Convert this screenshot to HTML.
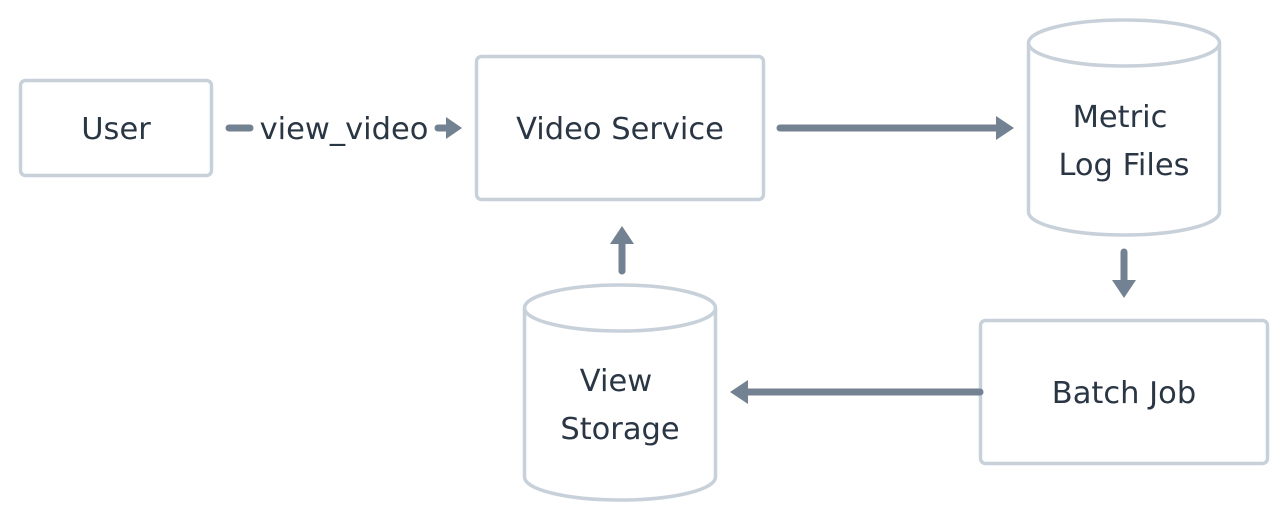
<!DOCTYPE html>
<html><head><style>
html,body{margin:0;padding:0;background:#fff;}
svg{display:block;}
text{font-family:"DejaVu Sans","Liberation Sans",sans-serif;font-size:30.5px;fill:#2a3644;text-anchor:middle;}
</style></head><body>
<svg width="1288" height="520" viewBox="0 0 1288 520">
<g fill="#fff" stroke="#c8d1da" stroke-width="3.5">
<rect x="20.5" y="80.5" width="191" height="95" rx="5"/>
<rect x="476.5" y="56.5" width="287" height="143" rx="5"/>
<rect x="980.5" y="320.5" width="287" height="143" rx="5"/>
<path d="M1028.5 43 V212 A95.5 23 0 0 0 1219.5 212 V43"/>
<ellipse cx="1124" cy="43" rx="95.5" ry="23"/>
<path d="M524.5 308 V477 A95.5 23 0 0 0 715.5 477 V308"/>
<ellipse cx="620" cy="308" rx="95.5" ry="23"/>
</g>
<g stroke="#738292" stroke-width="7" stroke-linecap="round" fill="none">
<line x1="229" y1="128" x2="250" y2="128"/>
<line x1="438" y1="128" x2="448" y2="128"/>
<line x1="780" y1="128" x2="998" y2="128"/>
<line x1="1124" y1="252" x2="1124" y2="282"/>
<line x1="980" y1="392" x2="746" y2="392"/>
<line x1="622" y1="271" x2="622" y2="242"/>
</g>
<g fill="#738292">
<polygon points="446,117 462,128 446,139"/>
<polygon points="996,116 1014,128 996,140"/>
<polygon points="1112,280 1124,298 1136,280"/>
<polygon points="748,380 730,392 748,404"/>
<polygon points="610,244 622,226 634,244"/>
</g>
<text x="116" y="139">User</text>
<text x="344" y="139">view_video</text>
<text x="620" y="139">Video Service</text>
<text x="1120" y="127">Metric</text>
<text x="1124" y="175">Log Files</text>
<text x="1124" y="403">Batch Job</text>
<text x="616" y="391">View</text>
<text x="620" y="439">Storage</text>
</svg>
</body></html>
